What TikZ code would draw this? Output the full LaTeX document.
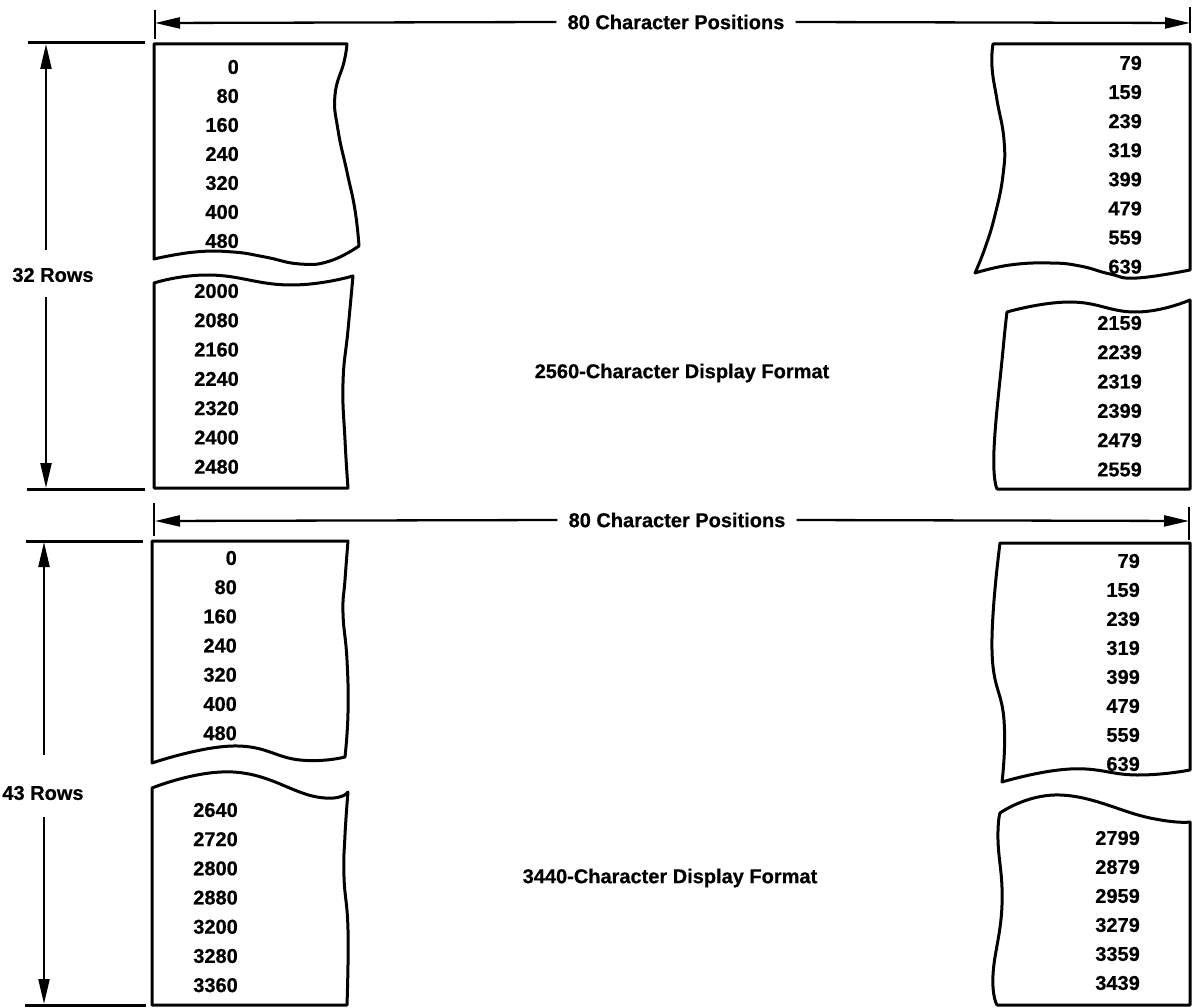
\documentclass[tikz,border=0pt]{standalone}
\usepackage{fontspec}
\setmainfont{Liberation Sans}[BoldFeatures={FakeBold=0.6}]
\usetikzlibrary{arrows.meta}
\begin{document}
\begin{tikzpicture}[x=1pt,y=-1pt,
  lbl/.style={font=\fontsize{20}{24}\selectfont\bfseries, inner sep=0pt},
  num/.style={lbl, anchor=east},
  sheet/.style={line width=3pt, line join=round, line cap=round},
  dimline/.style={line width=2.3pt},
  tip/.style={-{Triangle[length=25pt,width=11pt]}},
  ext/.style={line width=3pt},
  tick/.style={line width=2.5pt},
  gap/.style={lbl, fill=white, inner xsep=11pt, inner ysep=2pt},
  wave/.style={smooth, tension=0.8},
]
\useasboundingbox (0,0) rectangle (1200,1008);

% ===================== upper format =====================
\coordinate (tA1) at (155,10); \coordinate (tA2) at (155,39);
\coordinate (tB1) at (1190,7); \coordinate (tB2) at (1190,33);
\draw[tick] (tA1) -- (tA2);
\draw[tick] (tB1) -- (tB2);
\coordinate (dl1) at (155,23); \coordinate (dr1) at (1190,23);
\node[gap] (d1) at (676,22) {80 Character Positions};
\draw[dimline,tip] (d1.west) -- (dl1);
\draw[dimline,tip] (d1.east) -- (dr1);

\coordinate (e1a) at (28,43); \coordinate (e1b) at (145,43);
\coordinate (e2a) at (27,489); \coordinate (e2b) at (145,489);
\draw[ext] (e1a) -- (e1b);
\draw[ext] (e2a) -- (e2b);
\node[lbl] (r1) at (53,275) {32 Rows};
\coordinate (v1a) at (46,250); \coordinate (v1t) at (46,44);
\coordinate (v1b) at (46,297); \coordinate (v1e) at (46,488);
\draw[dimline,tip] (v1a) -- (v1t);
\draw[dimline,tip] (v1b) -- (v1e);

% sheets
\draw[sheet] (154,44) -- (346,44)
  -- plot[wave] coordinates {(347,44) (344,62) (335,95) (338,130) (347,172) (355,210) (359,246)}
  -- plot[wave] coordinates {(359,246) (330,261) (300,264) (265,257) (233,252) (195,252) (154,259)}
  -- cycle;
\draw[sheet] (154,488)
  -- plot[wave] coordinates {(154,283) (210,275) (290,285) (353,276)}
  -- plot[wave] coordinates {(353,276) (348,330) (343,383) (345,440) (348,488)}
  -- cycle;
\draw[sheet] (993,44) -- (1190,44) -- (1190,270)
  -- plot[wave] coordinates {(1190,270) (1137,278) (1110,274) (1080,266) (1050,263) (1010,265) (975,273)}
  -- plot[wave] coordinates {(975,273) (985,248) (995,215) (1003,175) (1004,140) (997,100) (992,67) (993,44)}
  -- cycle;
\draw[sheet] (1190,489) -- (997,489)
  -- plot[wave] coordinates {(997,489) (994,450) (1003,350) (1007,312)}
  -- plot[wave] coordinates {(1007,312) (1070,302) (1137,312) (1190,300)}
  -- cycle;

\foreach \t [count=\i] in {0,80,160,240,320,400,480}
  \node[num] (ula\i) at (239,{67+(\i-1)*29}) {\t};
\foreach \t [count=\i] in {2000,2080,2160,2240,2320,2400,2480}
  \node[num] (ulb\i) at (239,{291+(\i-1)*29.3}) {\t};
\foreach \t [count=\i] in {79,159,239,319,399,479,559,639}
  \node[num] (ura\i) at (1142,{63+(\i-1)*29.1}) {\t};
\foreach \t [count=\i] in {2159,2239,2319,2399,2479,2559}
  \node[num] (urb\i) at (1142,{323+(\i-1)*29.3}) {\t};

\node[lbl] (c1) at (682,373) {2560-Character Display Format};

% ===================== lower format =====================
\coordinate (bA1) at (154,503); \coordinate (bA2) at (154,536);
\coordinate (bB1) at (1189,507); \coordinate (bB2) at (1189,540);
\draw[tick] (bA1) -- (bA2);
\draw[tick] (bB1) -- (bB2);
\coordinate (dl2) at (155,521); \coordinate (dr2) at (1189,521);
\node[gap] (d2) at (677,520) {80 Character Positions};
\draw[dimline,tip] (d2.west) -- (dl2);
\draw[dimline,tip] (d2.east) -- (dr2);

\coordinate (e3a) at (26,541); \coordinate (e3b) at (143,541);
\coordinate (e4a) at (25,1005); \coordinate (e4b) at (146,1005);
\draw[ext] (e3a) -- (e3b);
\draw[ext] (e4a) -- (e4b);
\node[lbl] (r2) at (43,793) {43 Rows};
\coordinate (v2a) at (44,755); \coordinate (v2t) at (44,542);
\coordinate (v2b) at (44,817); \coordinate (v2e) at (44,1004);
\draw[dimline,tip] (v2a) -- (v2t);
\draw[dimline,tip] (v2b) -- (v2e);

\draw[sheet] (152,541) -- (348,541)
  -- plot[wave] coordinates {(348,541) (345,580) (343,613) (347,660) (348,713) (345,757)}
  -- plot[wave] coordinates {(345,757) (300,760) (233,746) (152,763)}
  -- cycle;
\draw[sheet] (152,1005)
  -- plot[wave] coordinates {(152,788) (233,772) (317,797) (348,792)}
  -- plot[wave] coordinates {(348,792) (345,835) (344,877) (348,930) (347,1005)}
  -- cycle;
\draw[sheet] (1000,543) -- (1190,543) -- (1190,770)
  -- plot[wave] coordinates {(1190,770) (1137,775) (1070,769) (1002,782)}
  -- plot[wave] coordinates {(1002,782) (1004,720) (992,650) (1000,543)}
  -- cycle;
\draw[sheet] (1190,1005) -- (997,1005)
  -- plot[wave] coordinates {(997,1005) (993,975) (1002,905) (998,840) (1000,813)}
  -- plot[wave] coordinates {(1000,813) (1060,795) (1150,818) (1190,822)}
  -- cycle;

\foreach \t [count=\i] in {0,80,160,240,320,400,480}
  \node[num] (lla\i) at (237,{558+(\i-1)*29.2}) {\t};
\foreach \t [count=\i] in {2640,2720,2800,2880,3200,3280,3360}
  \node[num] (llb\i) at (238,{810+(\i-1)*29.2}) {\t};
\foreach \t [count=\i] in {79,159,239,319,399,479,559,639}
  \node[num] (lra\i) at (1140,{561+(\i-1)*29}) {\t};
\foreach \t [count=\i] in {2799,2879,2959,3279,3359,3439}
  \node[num] (lrb\i) at (1140,{838+(\i-1)*29}) {\t};

\node[lbl] (c2) at (670,878) {3440-Character Display Format};
\end{tikzpicture}
\end{document}
